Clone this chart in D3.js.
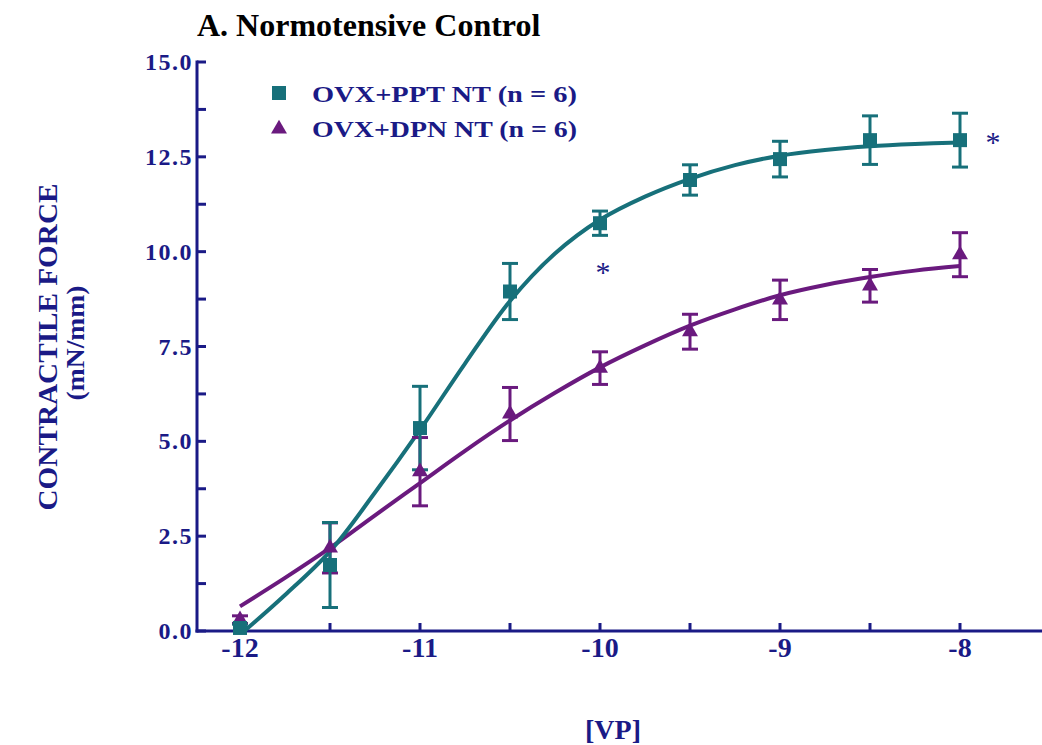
<!DOCTYPE html>
<html>
<head>
<meta charset="utf-8">
<script src="https://cdn.jsdelivr.net/npm/d3@7"></script>
<style>
  body { margin: 0; background: #fff; }
  text { font-family: "Liberation Serif", "Times New Roman", serif; font-weight: bold; }
</style>
</head>
<body>
<div id="chart"></div>
<script>
var doses = [-12, -11.5, -11, -10.5, -10, -9.5, -9, -8.5, -8]
var pptMean = [0.08, 1.74, 5.35, 8.95, 10.75, 11.89, 12.44, 12.94, 12.94]
var pptSem = [0.1, 1.12, 1.1, 0.74, 0.32, 0.4, 0.47, 0.64, 0.71]
var dpnMean = [0.3, 2.19, 4.2, 5.72, 6.93, 7.89, 8.73, 9.1, 9.92]
var dpnSem = [0.1, 0.66, 0.9, 0.7, 0.43, 0.46, 0.52, 0.43, 0.58]

// fitted curves
var fitDoses = [-12, -11.75, -11.5, -11.25, -11, -10.75, -10.5, -10.25, -10, -9.75, -9.5, -9.25, -9, -8.75, -8.5, -8.25, -8]
var pptFit = [-0.1, 0.95, 2.1, 3.65, 5.3, 7.05, 8.7, 9.95, 10.84, 11.45, 11.92, 12.28, 12.53, 12.68, 12.78, 12.84, 12.88]
var dpnFit = [0.65, 1.4, 2.19, 3.05, 3.9, 4.75, 5.55, 6.28, 6.95, 7.53, 8.05, 8.48, 8.85, 9.12, 9.33, 9.5, 9.62]

var xTicks = [-12, -11, -10, -9, -8]
var xMinor = [-11.5, -10.5, -9.5, -8.5]
var yTicks = [0, 2.5, 5, 7.5, 10, 12.5, 15]
var yMinor = [1.25, 3.75, 6.25, 8.75, 11.25, 13.75]
var seriesNames = ["OVX+PPT NT (n = 6)", "OVX+DPN NT (n = 6)"]
var signif = [[-10, 10.75], [-8, 12.94]]

var width = 1042
var height = 745
var navy = "#1a1a86"
var teal = "#17707a"
var purple = "#6a1a7e"

var svg = d3.select("#chart")
    .append("svg")
    .attr("width", width)
    .attr("height", height)

var x = d3.scaleLinear().domain([-12, -8]).range([240, 960])
var y = d3.scaleLinear().domain([0, 15]).range([631, 62])
var axisX = 197

svg.append("defs").append("clipPath").attr("id", "plot")
    .append("rect").attr("x", axisX).attr("y", 0).attr("width", width).attr("height", y(0))

// axes
var gx = svg.append("g").attr("transform", `translate(0,${y(0)})`)
gx.append("line").attr("x1", axisX - 1.5).attr("x2", width).attr("stroke", navy).attr("stroke-width", 3)
gx.selectAll(".tk").data(xTicks.concat(xMinor)).enter().append("line")
    .attr("x1", d => x(d)).attr("x2", d => x(d)).attr("y1", 0).attr("y2", -8)
    .attr("stroke", navy).attr("stroke-width", 3)
gx.selectAll(".lb").data(xTicks).enter().append("text")
    .attr("x", d => x(d)).attr("y", 26).attr("text-anchor", "middle")
    .attr("font-size", 28).attr("fill", navy)
    .text(d => String(d))

var gy = svg.append("g").attr("transform", `translate(${axisX},0)`)
gy.append("line").attr("y1", y(15) - 1.5).attr("y2", y(0) + 1.5).attr("stroke", navy).attr("stroke-width", 3)
gy.selectAll(".tk").data(yTicks.concat(yMinor)).enter().append("line")
    .attr("y1", d => y(d)).attr("y2", d => y(d)).attr("x1", 0).attr("x2", 9)
    .attr("stroke", navy).attr("stroke-width", 3)
gy.selectAll(".lb").data(yTicks).enter().append("text")
    .attr("x", -4).attr("y", d => y(d) + 8).attr("text-anchor", "end")
    .attr("font-size", 24).attr("letter-spacing", 1.5).attr("fill", navy)
    .text(d => d3.format(".1f")(d))

// curves
var line = d3.line()
    .x(d => x(d[0]))
    .y(d => y(d[1]))
    .curve(d3.curveCatmullRom)

var curves = svg.append("g").attr("clip-path", "url(#plot)")
curves.append("path").datum(d3.zip(fitDoses, dpnFit))
    .attr("d", line).attr("fill", "none").attr("stroke", purple).attr("stroke-width", 4)
curves.append("path").datum(d3.zip(fitDoses, pptFit))
    .attr("d", line).attr("fill", "none").attr("stroke", teal).attr("stroke-width", 4)

// error bars + markers
function errorBars(mean, sem, color) {
    var g = svg.append("g").attr("stroke", color).attr("stroke-width", 3)
    var data = d3.zip(doses, mean, sem)
    g.selectAll(".v").data(data).enter().append("line")
        .attr("x1", d => x(d[0])).attr("x2", d => x(d[0]))
        .attr("y1", d => y(d[1] - d[2])).attr("y2", d => y(d[1] + d[2]))
    g.selectAll(".t").data(data).enter().append("line")
        .attr("x1", d => x(d[0]) - 8).attr("x2", d => x(d[0]) + 8)
        .attr("y1", d => y(d[1] + d[2])).attr("y2", d => y(d[1] + d[2]))
    g.selectAll(".b").data(data.filter(d => y(d[1] - d[2]) < y(0) - 3)).enter().append("line")
        .attr("x1", d => x(d[0]) - 8).attr("x2", d => x(d[0]) + 8)
        .attr("y1", d => y(d[1] - d[2])).attr("y2", d => y(d[1] - d[2]))
}
errorBars(dpnMean, dpnSem, purple)
errorBars(pptMean, pptSem, teal)

var sq = d3.symbol().type(d3.symbolSquare).size(196)
var tri = d3.symbol().type(d3.symbolTriangle).size(110)

svg.append("g").selectAll("path").data(d3.zip(doses, dpnMean)).enter().append("path")
    .attr("d", tri).attr("fill", purple)
    .attr("transform", d => `translate(${x(d[0])},${y(d[1])})`)
svg.append("g").selectAll("path").data(d3.zip(doses, pptMean)).enter().append("path")
    .attr("d", sq).attr("fill", teal)
    .attr("transform", d => `translate(${x(d[0])},${y(d[1])})`)

// significance marks
svg.selectAll(".ast").data(signif).enter().append("text")
    .attr("x", (d, i) => i == 0 ? x(d[0]) + 3 : x(d[0]) + 33)
    .attr("y", (d, i) => i == 0 ? y(d[1]) + 59 : y(d[1]) + 12)
    .attr("text-anchor", "middle").attr("font-size", 30)
    .style("font-weight", "normal")
    .attr("fill", navy).text("*")

// legend
var legend = svg.append("g")
legend.append("path").attr("d", sq).attr("fill", teal).attr("transform", "translate(279,93)")
legend.append("path").attr("d", tri).attr("fill", purple).attr("transform", "translate(279,129)")
legend.selectAll("text").data(seriesNames).enter().append("text")
    .attr("x", 312).attr("y", (d, i) => 102 + i * 35)
    .attr("font-size", 24).attr("fill", navy)
    .attr("textLength", 265).attr("lengthAdjust", "spacingAndGlyphs")
    .text(d => d)

// titles
svg.append("text").attr("x", 197).attr("y", 36).attr("font-size", 32).attr("fill", "#000")
    .text("A. Normotensive Control")

svg.append("text").attr("x", 613).attr("y", 739).attr("text-anchor", "middle")
    .attr("font-size", 28).attr("fill", navy).text("[VP]")

svg.append("text").attr("transform", "translate(57,347) rotate(-90)")
    .attr("text-anchor", "middle").attr("font-size", 27).attr("fill", navy)
    .attr("textLength", 327).attr("lengthAdjust", "spacingAndGlyphs")
    .text("CONTRACTILE  FORCE")
svg.append("text").attr("transform", "translate(84,343) rotate(-90)")
    .attr("text-anchor", "middle").attr("font-size", 26).attr("fill", navy)
    .attr("textLength", 115).attr("lengthAdjust", "spacingAndGlyphs")
    .text("(mN/mm)")
</script>
</body>
</html>
